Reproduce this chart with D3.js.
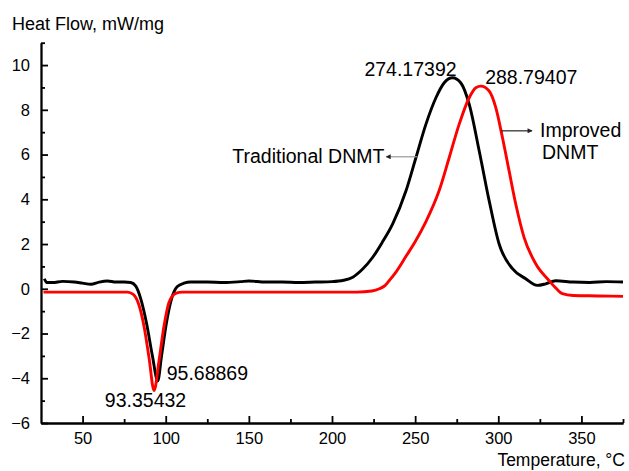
<!DOCTYPE html>
<html>
<head>
<meta charset="utf-8">
<script src="https://cdn.jsdelivr.net/npm/d3@7"></script>
<style>
  body { margin: 0; background: #fff; }
  svg { font-family: "Liberation Sans", Arial, sans-serif; }
  .axis path, .axis line { stroke: #000; stroke-width: 1.8; }
  .axis text { font-size: 16.5px; fill: #000; }
</style>
</head>
<body>
<svg id="chart"></svg>
<script>
const WIDTH = 629;
const HEIGHT = 471;

// Traditional DNMT (black curve)
const tradTemp = [27, 28.5, 32, 38, 45, 50, 55, 60, 65, 70, 75, 79, 82, 85, 88.5, 92, 95.2, 97.5, 100.5, 103.5, 107, 111, 115,
  125, 135, 145, 150, 160, 170, 180, 190, 200, 207, 212.5, 218, 224.5, 230, 236.5, 244.5, 250.5, 256.5, 262.5, 267.5, 272.5,
  277.5, 282.5, 288.5, 294.5, 300.5, 308.5, 316.5, 323.5, 328.5, 334.5, 345, 355, 365, 375];
const tradFlow = [0.45, 0.28, 0.28, 0.33, 0.3, 0.25, 0.2, 0.3, 0.35, 0.3, 0.3, 0.28, 0.12, -0.45, -1.55, -3.0, -4.12, -3.0, -1.5, -0.45, 0.1, 0.25, 0.3,
  0.3, 0.28, 0.32, 0.35, 0.3, 0.3, 0.28, 0.3, 0.32, 0.38, 0.52, 0.85, 1.41, 2.05, 2.9, 4.38, 5.87, 7.36, 8.54, 9.21, 9.43,
  9.2, 8.25, 6.17, 3.94, 2.0, 0.9, 0.45, 0.15, 0.22, 0.36, 0.3, 0.28, 0.32, 0.3];

// Improved DNMT (red curve)
const impTemp = [26.5, 50, 77, 80.5, 84, 87, 90, 93.0, 96, 99, 102, 106, 110, 130, 160, 190, 215, 224, 228.5, 232, 234.5, 238,
  244.5, 250, 256.5, 264.5, 270.5, 276.5, 282.5, 286.5, 289.5, 294.5, 298.5, 302.5, 306.5, 310.5, 315.5, 322.5, 330.5, 335, 338.5,
  345, 360, 375];
const impFlow = [-0.15, -0.15, -0.15, -0.25, -0.75, -1.7, -3.1, -4.55, -3.2, -1.65, -0.6, -0.2, -0.15, -0.15, -0.15, -0.15, -0.15, -0.1, 0.0, 0.15, 0.37, 0.7,
  1.45, 2.1, 3.0, 4.4, 5.87, 7.36, 8.54, 8.99, 9.06, 8.84, 8.1, 6.76, 5.27, 3.79, 2.3, 1.12, 0.37, 0.0, -0.22,
  -0.3, -0.32, -0.34];

const xMajorTicks = [50, 100, 150, 200, 250, 300, 350];
const xMinorTicks = [75, 125, 175, 225, 275, 325, 375];
const yMajorTicks = [-6, -4, -2, 0, 2, 4, 6, 8, 10];
const yMinorTicks = [-5, -3, -1, 1, 3, 5, 7, 9, 11];

// peak labels: [text, temperature, heat flow] (text start / baseline)
const peakLabels = [
  ["274.17392", 219.5, 9.51],
  ["288.79407", 292.1, 9.15],
  ["95.68869", 100.6, -4.08],
  ["93.35432", 63.4, -5.27]
];

const margin = { top: 42.7, right: 6, bottom: 48, left: 41 };

const svg = d3.select("#chart")
  .attr("width", WIDTH)
  .attr("height", HEIGHT);

const x = d3.scaleLinear()
  .domain([25, 375])
  .range([margin.left, WIDTH - margin.right]);

const y = d3.scaleLinear()
  .domain([-6, 11])
  .range([HEIGHT - margin.bottom, margin.top]);

// axes, ticks pointing inward
svg.append("g")
  .attr("class", "axis")
  .attr("transform", `translate(0,${y(-6)})`)
  .call(d3.axisBottom(x).tickValues(xMinorTicks).tickSize(-4).tickSizeOuter(0).tickFormat(""));

svg.append("g")
  .attr("class", "axis")
  .attr("transform", `translate(0,${y(-6)})`)
  .call(d3.axisBottom(x).tickValues(xMajorTicks).tickSize(-7).tickSizeOuter(0).tickPadding(9));

svg.append("g")
  .attr("class", "axis")
  .attr("transform", `translate(${x(25)},0)`)
  .call(d3.axisLeft(y).tickValues(yMinorTicks).tickSize(-4).tickSizeOuter(0).tickFormat(""));

svg.append("g")
  .attr("class", "axis")
  .attr("transform", `translate(${x(25)},0)`)
  .call(d3.axisLeft(y).tickValues(yMajorTicks).tickSize(-7).tickSizeOuter(0).tickPadding(11));

svg.selectAll(".axis text").attr("font-family", "Liberation Sans, Arial, sans-serif");

// axis titles
svg.append("text")
  .attr("x", 12)
  .attr("y", 30)
  .style("font-size", "18px")
  .text("Heat Flow, mW/mg");

svg.append("text")
  .attr("x", 625)
  .attr("y", 466)
  .attr("text-anchor", "end")
  .style("font-size", "17.5px")
  .text("Temperature, °C");

// curves
const line = d3.line()
  .x(d => x(d[0]))
  .y(d => y(d[1]))
  .curve(d3.curveMonotoneX);

svg.append("path")
  .datum(d3.zip(tradTemp, tradFlow))
  .attr("fill", "none")
  .attr("stroke", "#000")
  .attr("stroke-width", 2.9)
  .attr("stroke-linejoin", "round")
  .attr("d", line);

svg.append("path")
  .datum(d3.zip(impTemp, impFlow))
  .attr("fill", "none")
  .attr("stroke", "#f00")
  .attr("stroke-width", 2.9)
  .attr("stroke-linejoin", "round")
  .attr("d", line);

// arrow marker
svg.append("defs")
  .append("marker")
  .attr("id", "arrow")
  .attr("viewBox", "0 0 10 10")
  .attr("refX", 9)
  .attr("refY", 5)
  .attr("markerWidth", 7)
  .attr("markerHeight", 5)
  .attr("markerUnits", "userSpaceOnUse")
  .attr("orient", "auto")
  .append("path")
  .attr("d", "M0,0L10,5L0,10z")
  .attr("fill", "#222");

// peak value labels
svg.append("g")
  .selectAll("text")
  .data(peakLabels)
  .enter()
  .append("text")
  .attr("x", d => x(d[1]))
  .attr("y", d => y(d[2]))
  .style("font-size", "19.5px")
  .text(d => d[0]);

// legend labels with arrows
svg.append("line")
  .attr("x1", x(251.3)).attr("y1", y(5.9))
  .attr("x2", x(232.6)).attr("y2", y(5.9))
  .attr("stroke", "#999")
  .attr("stroke-width", 1.2)
  .attr("marker-end", "url(#arrow)");

svg.append("text")
  .attr("x", x(231.5))
  .attr("y", y(5.63))
  .attr("text-anchor", "end")
  .style("font-size", "19.5px")
  .text("Traditional DNMT");

svg.append("line")
  .attr("x1", x(301.7)).attr("y1", y(7.06))
  .attr("x2", x(320.3)).attr("y2", y(7.06))
  .attr("stroke", "#222")
  .attr("stroke-width", 1.2)
  .attr("marker-end", "url(#arrow)");

svg.append("text")
  .attr("x", x(325.1))
  .attr("y", y(6.79))
  .style("font-size", "19.5px")
  .text("Improved");

svg.append("text")
  .attr("x", x(326.3))
  .attr("y", y(5.81))
  .style("font-size", "19.5px")
  .text("DNMT");
</script>
</body>
</html>
